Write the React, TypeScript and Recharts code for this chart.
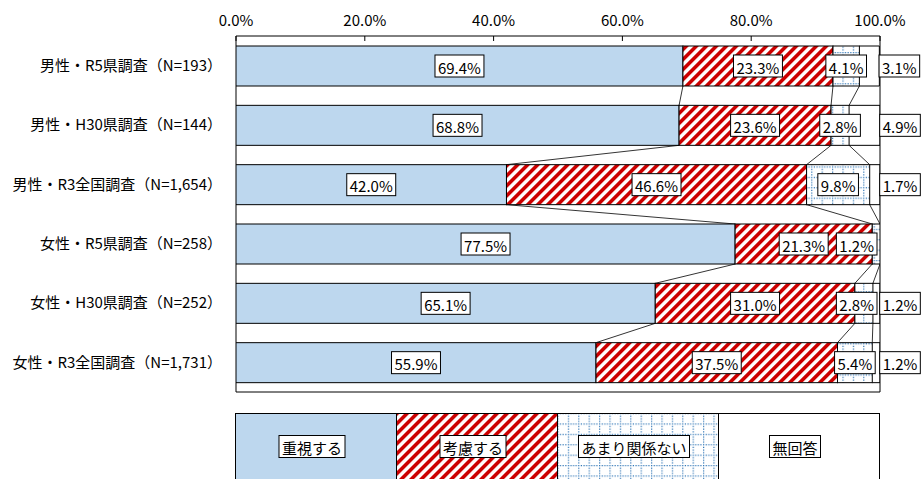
import React from "react";
import {
  BarChart,
  Bar,
  XAxis,
  YAxis,
  ReferenceArea,
  Legend,
  LabelList,
} from "recharts";

const categories = [
  "男性・R5県調査（N=193）",
  "男性・H30県調査（N=144）",
  "男性・R3全国調査（N=1,654）",
  "女性・R5県調査（N=258）",
  "女性・H30県調査（N=252）",
  "女性・R3全国調査（N=1,731）",
];
const juushi = [69.4, 68.8, 42.0, 77.5, 65.1, 55.9];
const kouryo = [23.3, 23.6, 46.6, 21.3, 31.0, 37.5];
const amari = [4.1, 2.8, 9.8, 1.2, 2.8, 5.4];
const mukaitou = [3.1, 4.9, 1.7, 0.0, 1.2, 1.2];
const seriesNames = ["重視する", "考慮する", "あまり関係ない", "無回答"];
const xTicks = [0, 20, 40, 60, 80, 100];

const seriesValues = [juushi, kouryo, amari, mukaitou];
const seriesKeys = ["s0", "s1", "s2", "s3"];
const seriesFills = ["#bdd7ee", "url(#pStripe)", "url(#pDots)", "#ffffff"];

const data = categories.map((name, i) => ({
  name,
  s0: juushi[i],
  s1: kouryo[i],
  s2: amari[i],
  s3: mukaitou[i],
}));

// layout
const CHART_W = 924;
const CHART_H = 479;
const X_AXIS_H = 36;
const Y_AXIS_W = 236;
const MARGIN_RIGHT = 44;
const MARGIN_BOTTOM = 87;
const BAR_SIZE = 40;
const PLOT_RIGHT = CHART_W - MARGIN_RIGHT;
const ROW_PITCH = (CHART_H - MARGIN_BOTTOM - X_AXIS_H) / categories.length;
const FONT = '"Noto Sans CJK JP", "Noto Sans", sans-serif';
const FS = 15;

let ctx: CanvasRenderingContext2D | null = null;
const measure = (s: string) => {
  if (!ctx) ctx = document.createElement("canvas").getContext("2d");
  if (!ctx) return s.length * FS * 0.6;
  ctx.font = `${FS}px ${FONT}`;
  return ctx.measureText(s).width;
};

const cum = (k: number, i: number) => {
  let s = 0;
  for (let j = 0; j <= k; j++) s += seriesValues[j][i];
  return s;
};

const makeSegment = (k: number) => (props: any) => {
  const { x, y, width, height, fill, index } = props;
  if (!(width > 0)) return <g />;
  const v = seriesValues[k][index];
  let link = null;
  if (k < 3 && index + 1 < categories.length && v > 0) {
    const ppu = width / v;
    const nx = x + width + (cum(k, index + 1) - cum(k, index)) * ppu;
    link = (
      <line
        x1={x + width}
        y1={y + height}
        x2={nx}
        y2={y + ROW_PITCH}
        stroke="#000"
        strokeWidth={0.8}
      />
    );
  }
  if (k === 3) {
    return (
      <path
        d={`M${x},${y}H${x + width}V${y + height}H${x}`}
        fill="none"
        stroke="#000"
        strokeWidth={1}
      />
    );
  }
  return (
    <g>
      <rect x={x} y={y} width={width} height={height} fill={fill} stroke="#000" strokeWidth={1} />
      {link}
    </g>
  );
};

const ValueBox = ({ cx, cy, text }: { cx: number; cy: number; text: string }) => {
  const w = measure(text) + 6;
  const h = 22;
  return (
    <g>
      <rect x={cx - w / 2} y={cy - h / 2} width={w} height={h} fill="#fff" stroke="#000" strokeWidth={1} />
      <text
        x={cx}
        y={cy + 1}
        textAnchor="middle"
        dominantBaseline="central"
        fontSize={FS}
        fontFamily={FONT}
        fill="#000"
      >
        {text}
      </text>
    </g>
  );
};

const makeLabel = (k: number) => (props: any) => {
  const vb = props.viewBox ?? props;
  const { x, y, width, height } = vb;
  const value = Number(props.value);
  if (!value) return null;
  const text = `${value.toFixed(1)}%`;
  const w = measure(text) + 6;
  let cx = x + width / 2;
  if (k === 3) cx = x + width + 20;
  else cx = Math.min(cx, PLOT_RIGHT - 3 - w / 2);
  return <ValueBox cx={cx} cy={y + height / 2} text={text} />;
};

const XTick = (props: any) => {
  const { x, y, payload } = props;
  const axisY = y + 5 + 12;
  return (
    <g>
      <line x1={x} y1={axisY} x2={x} y2={axisY + 5} stroke="#000" strokeWidth={1} />
      <text
        x={x}
        y={y}
        textAnchor="middle"
        dominantBaseline="central"
        fontSize={FS}
        fontFamily={FONT}
        fill="#000"
      >
        {`${Number(payload.value).toFixed(1)}%`}
      </text>
    </g>
  );
};

const LegendContent = (props: any) => {
  const payload = [...(props.payload ?? [])].sort(
    (a: any, b: any) => seriesNames.indexOf(a.value) - seriesNames.indexOf(b.value)
  );
  const totalW = PLOT_RIGHT - Y_AXIS_W;
  const cellW = totalW / payload.length;
  const cellH = 67;
  return (
    <svg width={totalW + 2} height={cellH + 2} style={{ display: "block" }}>
      {payload.map((p: any, k: number) => (
        <rect
          key={`c${k}`}
          x={0.5 + k * cellW}
          y={0.5}
          width={cellW}
          height={cellH}
          fill={p.color}
          stroke="#000"
          strokeWidth={1}
        />
      ))}
      {payload.map((p: any, k: number) => {
        const text = String(p.value);
        const w = measure(text) + 6;
        const cx = 0.5 + k * cellW + cellW / 2 - 4;
        const cy = 33.5;
        return (
          <g key={`l${k}`}>
            <rect x={cx - w / 2} y={cy - 11} width={w} height={22} fill="#fff" stroke="#000" strokeWidth={1} />
            <text
              x={cx}
              y={cy + 1}
              textAnchor="middle"
              dominantBaseline="central"
              fontSize={FS}
              fontFamily={FONT}
              fill="#000"
            >
              {text}
            </text>
          </g>
        );
      })}
    </svg>
  );
};

const dotRow = [0, 2.6, 5.2, 7.8];

export default function App() {
  return (
    <div
      style={{
        position: "absolute",
        left: 0,
        top: 0,
        width: CHART_W,
        height: CHART_H,
        overflow: "hidden",
        background: "#fff",
      }}
    >
      <BarChart
        width={CHART_W}
        height={CHART_H}
        data={data}
        layout="vertical"
        margin={{ top: 0, right: MARGIN_RIGHT, bottom: MARGIN_BOTTOM, left: 0 }}
      >
        <defs>
          <pattern
            id="pStripe"
            width="7.07"
            height="7.07"
            patternUnits="userSpaceOnUse"
            patternTransform="rotate(45)"
          >
            <rect width="7.07" height="7.07" fill="#fff" />
            <rect width="3.6" height="7.07" fill="#cc0000" />
          </pattern>
          <pattern id="pDots" width="10.4" height="10.4" patternUnits="userSpaceOnUse">
            <rect width="10.4" height="10.4" fill="#fff" />
            {dotRow.map((d) => (
              <rect key={`h${d}`} x={d} y={0} width={1.2} height={1.2} fill="#2e75b6" />
            ))}
            {dotRow.slice(1).map((d) => (
              <rect key={`v${d}`} x={0} y={d} width={1.2} height={1.2} fill="#2e75b6" />
            ))}
          </pattern>
        </defs>
        <XAxis
          type="number"
          orientation="top"
          domain={[0, 100]}
          ticks={xTicks}
          allowDataOverflow
          height={X_AXIS_H}
          axisLine={false}
          tickLine={false}
          tickSize={5}
          tickMargin={12}
          tick={<XTick />}
          interval={0}
        />
        <YAxis
          type="category"
          dataKey="name"
          width={Y_AXIS_W}
          axisLine={false}
          tickLine={false}
          tickSize={0}
          tickMargin={14}
          interval={0}
          tick={{ fontSize: FS, fill: "#000", fontFamily: FONT }}
        />
        {seriesKeys.map((key, k) => (
          <Bar
            key={key}
            dataKey={key}
            name={seriesNames[k]}
            stackId="a"
            fill={seriesFills[k]}
            barSize={BAR_SIZE}
            shape={makeSegment(k)}
            isAnimationActive={false}
          >
            <LabelList dataKey={key} content={makeLabel(k)} />
          </Bar>
        ))}
        <ReferenceArea
          x1={0}
          x2={100}
          fill="none"
          fillOpacity={0}
          stroke="#000"
          strokeWidth={1}
          ifOverflow="visible"
        />
        <Legend
          layout="vertical"
          align="center"
          verticalAlign="middle"
          content={<LegendContent />}
          wrapperStyle={{ left: Y_AXIS_W - 1, top: 413, width: PLOT_RIGHT - Y_AXIS_W + 2 }}
        />
      </BarChart>
    </div>
  );
}
